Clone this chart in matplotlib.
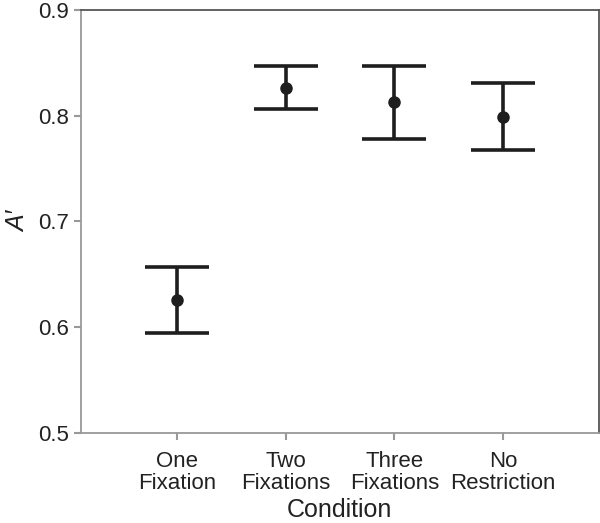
import matplotlib.pyplot as plt

conditions = ["One\nFixation", "Two\nFixations", "Three\nFixations", "No\nRestriction"]
a_prime = [0.626, 0.826, 0.813, 0.799]
upper = [0.657, 0.847, 0.847, 0.831]
lower = [0.595, 0.806, 0.778, 0.768]

plt.rcParams['font.family'] = ['Liberation Sans', 'DejaVu Sans']

fig = plt.figure(figsize=(6, 5.23), dpi=100)
ax = fig.add_axes([0.135, 0.172, 0.863, 0.809])

x = list(range(len(conditions)))
yerr = [[m - lo for m, lo in zip(a_prime, lower)], [hi - m for m, hi in zip(a_prime, upper)]]
ax.errorbar(x, a_prime, yerr=yerr, fmt='o', color='#1e1e1e', ms=8,
            elinewidth=2.6, capsize=23, capthick=2.6)

ax.set_xlim(-0.88, 3.88)
ax.set_ylim(0.5, 0.9)
ax.set_yticks([0.5, 0.6, 0.7, 0.8, 0.9])
ax.set_yticklabels(["0.5", "0.6", "0.7", "0.8", "0.9"])
ax.set_xticks(x)
ax.set_xticklabels(conditions, linespacing=1.05)
ax.tick_params(axis='both', labelsize=16, colors='#999999', labelcolor='#222222',
               direction='out', length=5, width=1.5)
ax.tick_params(axis='x', pad=8)
ax.set_xlabel("Condition", fontsize=18, color='#222222', labelpad=3)
ax.set_ylabel("A\u2032", fontsize=18, style='italic', color='#222222', labelpad=6)

ax.spines['left'].set_color('#999999')
ax.spines['bottom'].set_color('#999999')
ax.spines['top'].set_color('#555555')
ax.spines['right'].set_color('#555555')
for s in ax.spines.values():
    s.set_linewidth(1.3)

fig.savefig("out.png", dpi=100)
